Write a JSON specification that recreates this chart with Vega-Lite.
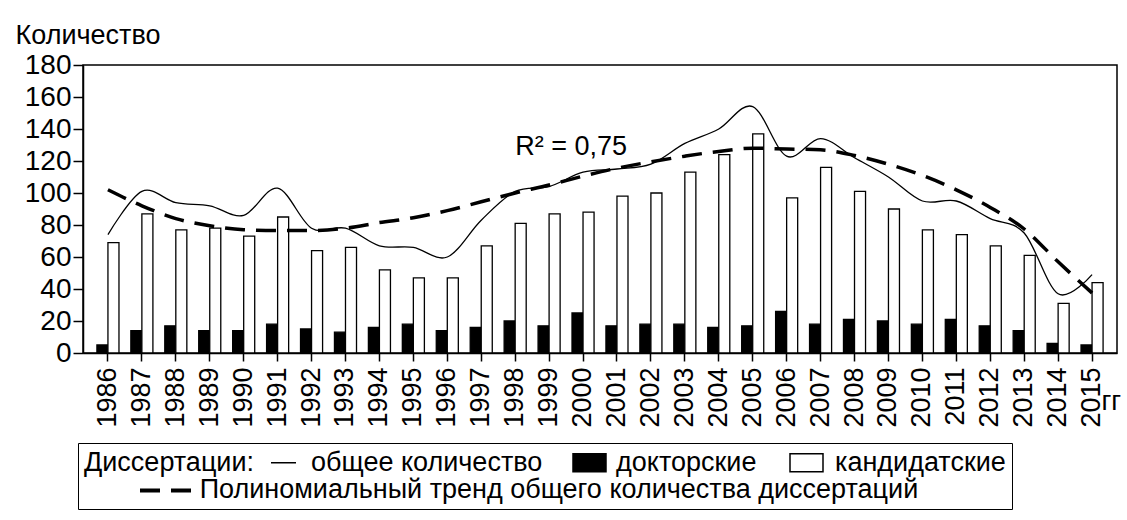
{
  "$schema": "https://vega.github.io/schema/vega-lite/v6.json",
  "width": 1034,
  "height": 288,
  "autosize": {"type": "none"},
  "padding": {"left": 83, "top": 65, "right": 10, "bottom": 167},
  "background": "white",
  "config": {
    "font": "Liberation Sans",
    "view": {"stroke": "black", "strokeWidth": 1.5},
    "axis": {"labelColor": "black", "titleColor": "black", "domainColor": "black", "tickColor": "black", "domainWidth": 1.5, "tickWidth": 1.5, "grid": false, "titleFontWeight": "normal"}
  },
  "datasets": {
    "bars": [
      {"year": "1986", "series": "докторские", "value": 5}, {"year": "1986", "series": "кандидатские", "value": 69},
      {"year": "1987", "series": "докторские", "value": 14}, {"year": "1987", "series": "кандидатские", "value": 87},
      {"year": "1988", "series": "докторские", "value": 17}, {"year": "1988", "series": "кандидатские", "value": 77},
      {"year": "1989", "series": "докторские", "value": 14}, {"year": "1989", "series": "кандидатские", "value": 78},
      {"year": "1990", "series": "докторские", "value": 14}, {"year": "1990", "series": "кандидатские", "value": 73},
      {"year": "1991", "series": "докторские", "value": 18}, {"year": "1991", "series": "кандидатские", "value": 85},
      {"year": "1992", "series": "докторские", "value": 15}, {"year": "1992", "series": "кандидатские", "value": 64},
      {"year": "1993", "series": "докторские", "value": 13}, {"year": "1993", "series": "кандидатские", "value": 66},
      {"year": "1994", "series": "докторские", "value": 16}, {"year": "1994", "series": "кандидатские", "value": 52},
      {"year": "1995", "series": "докторские", "value": 18}, {"year": "1995", "series": "кандидатские", "value": 47},
      {"year": "1996", "series": "докторские", "value": 14}, {"year": "1996", "series": "кандидатские", "value": 47},
      {"year": "1997", "series": "докторские", "value": 16}, {"year": "1997", "series": "кандидатские", "value": 67},
      {"year": "1998", "series": "докторские", "value": 20}, {"year": "1998", "series": "кандидатские", "value": 81},
      {"year": "1999", "series": "докторские", "value": 17}, {"year": "1999", "series": "кандидатские", "value": 87},
      {"year": "2000", "series": "докторские", "value": 25}, {"year": "2000", "series": "кандидатские", "value": 88},
      {"year": "2001", "series": "докторские", "value": 17}, {"year": "2001", "series": "кандидатские", "value": 98},
      {"year": "2002", "series": "докторские", "value": 18}, {"year": "2002", "series": "кандидатские", "value": 100},
      {"year": "2003", "series": "докторские", "value": 18}, {"year": "2003", "series": "кандидатские", "value": 113},
      {"year": "2004", "series": "докторские", "value": 16}, {"year": "2004", "series": "кандидатские", "value": 124},
      {"year": "2005", "series": "докторские", "value": 17}, {"year": "2005", "series": "кандидатские", "value": 137},
      {"year": "2006", "series": "докторские", "value": 26}, {"year": "2006", "series": "кандидатские", "value": 97},
      {"year": "2007", "series": "докторские", "value": 18}, {"year": "2007", "series": "кандидатские", "value": 116},
      {"year": "2008", "series": "докторские", "value": 21}, {"year": "2008", "series": "кандидатские", "value": 101},
      {"year": "2009", "series": "докторские", "value": 20}, {"year": "2009", "series": "кандидатские", "value": 90},
      {"year": "2010", "series": "докторские", "value": 18}, {"year": "2010", "series": "кандидатские", "value": 77},
      {"year": "2011", "series": "докторские", "value": 21}, {"year": "2011", "series": "кандидатские", "value": 74},
      {"year": "2012", "series": "докторские", "value": 17}, {"year": "2012", "series": "кандидатские", "value": 67},
      {"year": "2013", "series": "докторские", "value": 14}, {"year": "2013", "series": "кандидатские", "value": 61},
      {"year": "2014", "series": "докторские", "value": 6}, {"year": "2014", "series": "кандидатские", "value": 31},
      {"year": "2015", "series": "докторские", "value": 5}, {"year": "2015", "series": "кандидатские", "value": 44}
    ],
    "total": [
      {"year": "1986", "value": 74}, {"year": "1987", "value": 101}, {"year": "1988", "value": 94},
      {"year": "1989", "value": 92}, {"year": "1990", "value": 86}, {"year": "1991", "value": 103},
      {"year": "1992", "value": 78}, {"year": "1993", "value": 78}, {"year": "1994", "value": 67},
      {"year": "1995", "value": 66}, {"year": "1996", "value": 60}, {"year": "1997", "value": 83},
      {"year": "1998", "value": 101}, {"year": "1999", "value": 104}, {"year": "2000", "value": 113},
      {"year": "2001", "value": 115}, {"year": "2002", "value": 118}, {"year": "2003", "value": 131},
      {"year": "2004", "value": 140}, {"year": "2005", "value": 154}, {"year": "2006", "value": 123},
      {"year": "2007", "value": 134}, {"year": "2008", "value": 122}, {"year": "2009", "value": 110},
      {"year": "2010", "value": 95}, {"year": "2011", "value": 95}, {"year": "2012", "value": 84},
      {"year": "2013", "value": 75}, {"year": "2014", "value": 37}, {"year": "2015", "value": 49}
    ],
    "trend": [
      {"year": "1986", "series": "Полиномиальный тренд общего количества диссертаций", "value": 102},
      {"year": "1987", "series": "Полиномиальный тренд общего количества диссертаций", "value": 92},
      {"year": "1988", "series": "Полиномиальный тренд общего количества диссертаций", "value": 84},
      {"year": "1989", "series": "Полиномиальный тренд общего количества диссертаций", "value": 79.5},
      {"year": "1990", "series": "Полиномиальный тренд общего количества диссертаций", "value": 77},
      {"year": "1991", "series": "Полиномиальный тренд общего количества диссертаций", "value": 76.5},
      {"year": "1992", "series": "Полиномиальный тренд общего количества диссертаций", "value": 76.5},
      {"year": "1993", "series": "Полиномиальный тренд общего количества диссертаций", "value": 78},
      {"year": "1994", "series": "Полиномиальный тренд общего количества диссертаций", "value": 81.5},
      {"year": "1995", "series": "Полиномиальный тренд общего количества диссертаций", "value": 84.5},
      {"year": "1996", "series": "Полиномиальный тренд общего количества диссертаций", "value": 89},
      {"year": "1997", "series": "Полиномиальный тренд общего количества диссертаций", "value": 94.5},
      {"year": "1998", "series": "Полиномиальный тренд общего количества диссертаций", "value": 100},
      {"year": "1999", "series": "Полиномиальный тренд общего количества диссертаций", "value": 105},
      {"year": "2000", "series": "Полиномиальный тренд общего количества диссертаций", "value": 110.5},
      {"year": "2001", "series": "Полиномиальный тренд общего количества диссертаций", "value": 115.5},
      {"year": "2002", "series": "Полиномиальный тренд общего количества диссертаций", "value": 119.5},
      {"year": "2003", "series": "Полиномиальный тренд общего количества диссертаций", "value": 123},
      {"year": "2004", "series": "Полиномиальный тренд общего количества диссертаций", "value": 126},
      {"year": "2005", "series": "Полиномиальный тренд общего количества диссертаций", "value": 128},
      {"year": "2006", "series": "Полиномиальный тренд общего количества диссертаций", "value": 127.5},
      {"year": "2007", "series": "Полиномиальный тренд общего количества диссертаций", "value": 127},
      {"year": "2008", "series": "Полиномиальный тренд общего количества диссертаций", "value": 123.5},
      {"year": "2009", "series": "Полиномиальный тренд общего количества диссертаций", "value": 118},
      {"year": "2010", "series": "Полиномиальный тренд общего количества диссертаций", "value": 111},
      {"year": "2011", "series": "Полиномиальный тренд общего количества диссертаций", "value": 102},
      {"year": "2012", "series": "Полиномиальный тренд общего количества диссертаций", "value": 91},
      {"year": "2013", "series": "Полиномиальный тренд общего количества диссертаций", "value": 77.5},
      {"year": "2014", "series": "Полиномиальный тренд общего количества диссертаций", "value": 57},
      {"year": "2015", "series": "Полиномиальный тренд общего количества диссертаций", "value": 37.5}
    ],
    "note": [
      {"year": "1998", "value": 123.75, "label": "R² = 0,75"}
    ]
  },
  "encoding": {
    "x": {
      "field": "year", "type": "ordinal",
      "scale": {"type": "band", "paddingInner": 0.35, "paddingOuter": 0.41},
      "axis": {
        "title": "гг", "titleAngle": 0, "titleX": 1018, "titleY": 56, "titleAlign": "left", "titleBaseline": "alphabetic", "titleFontSize": 27,
        "labelAngle": -90, "labelFontSize": 27, "labelPadding": 6, "tickSize": 8, "bandPosition": 0.5
      }
    },
    "y": {
      "field": "value", "type": "quantitative",
      "scale": {"domain": [0, 180], "nice": false},
      "axis": {
        "title": "Количество", "titleAngle": 0, "titleX": -68, "titleY": -22, "titleAlign": "left", "titleBaseline": "alphabetic", "titleFontSize": 27,
        "values": [0, 20, 40, 60, 80, 100, 120, 140, 160, 180], "tickSize": 10, "labelFontSize": 28, "labelPadding": 2
      }
    }
  },
  "layer": [
    {
      "data": {"name": "bars"},
      "mark": {"type": "bar", "stroke": "black", "strokeWidth": 1.3},
      "encoding": {
        "xOffset": {"field": "series", "type": "nominal", "scale": {"domain": ["докторские", "кандидатские"], "paddingInner": 0, "paddingOuter": 0}},
        "fill": {"field": "series", "type": "nominal", "legend": null,
          "scale": {"domain": ["докторские", "кандидатские"], "range": ["black", "white"]}}
      }
    },
    {
      "data": {"name": "total"},
      "mark": {"type": "line", "interpolate": "cardinal", "strokeWidth": 1.3, "color": "black"}
    },
    {
      "data": {"name": "trend"},
      "mark": {"type": "line", "interpolate": "monotone", "strokeWidth": 3.5, "color": "black"},
      "encoding": {
        "strokeDash": {"field": "series", "type": "nominal",
          "scale": {"domain": ["Полиномиальный тренд общего количества диссертаций"], "range": [[20, 11]]},
          "legend": {"title": null, "orient": "none", "legendX": 55, "legendY": 396, "labelExpr": "''", "symbolType": "stroke", "symbolSize": 3025, "symbolStrokeWidth": 4, "symbolStrokeColor": "black", "padding": 0, "labelFontSize": 10}}
      }
    },
    {
      "data": {"name": "bars"},
      "mark": {"type": "point", "filled": true, "opacity": 0, "stroke": "black", "strokeWidth": 1.5},
      "encoding": {
        "color": {"field": "series", "type": "nominal",
          "scale": {"domain": ["Диссертации:", "общее количество", "докторские", "кандидатские"], "range": ["transparent", "transparent", "black", "white"]},
          "legend": {
            "title": "\u200B\u2003\u2003\u2003\u2003\u2009\u200AПолиномиальный тренд общего количества диссертаций",
            "titleOrient": "bottom", "titleAnchor": "start", "titleFontSize": 27, "titleFontWeight": "normal", "titleColor": "black", "titleLimit": 2000, "titlePadding": 1,
            "orient": "none", "legendX": -5, "legendY": 378, "direction": "horizontal",
            "strokeColor": "black", "padding": 6, "columnPadding": 13,
            "labelFontSize": 27, "labelColor": "black", "labelLimit": 1000, "labelOffset": -27,
            "symbolSize": 4, "symbolOpacity": 1, "symbolStrokeWidth": 1.5, "symbolStrokeColor": "black",
            "encode": {"symbols": {"update": {"opacity": {"value": 1}, "size": {"value": 4}}}}
          }
        },
        "shape": {"field": "series", "type": "nominal",
          "scale": {"domain": ["Диссертации:", "общее количество", "докторские", "кандидатские"],
            "range": ["M-13,0", "M-53.5,0H-28.5", "M-70.5,0M-56.5,-9H-23.5V9H-56.5Z", "M-75.5,0M-58.5,-9H-25.5V9H-58.5Z"]},
          "legend": {
            "title": "\u200B\u2003\u2003\u2003\u2003\u2009\u200AПолиномиальный тренд общего количества диссертаций",
            "titleOrient": "bottom", "titleAnchor": "start", "titleFontSize": 27, "titleFontWeight": "normal", "titleColor": "black", "titleLimit": 2000, "titlePadding": 1,
            "orient": "none", "legendX": -5, "legendY": 378, "direction": "horizontal",
            "strokeColor": "black", "padding": 6, "columnPadding": 13,
            "labelFontSize": 27, "labelColor": "black", "labelLimit": 1000, "labelOffset": -27,
            "symbolSize": 4, "symbolOpacity": 1, "symbolStrokeWidth": 1.5, "symbolStrokeColor": "black",
            "encode": {"symbols": {"update": {"opacity": {"value": 1}, "size": {"value": 4}}}}
          }
        }
      }
    },
    {
      "data": {"name": "note"},
      "mark": {"type": "text", "align": "left", "baseline": "alphabetic", "fontSize": 27, "color": "black"},
      "encoding": {"text": {"field": "label"}}
    }
  ]
}
